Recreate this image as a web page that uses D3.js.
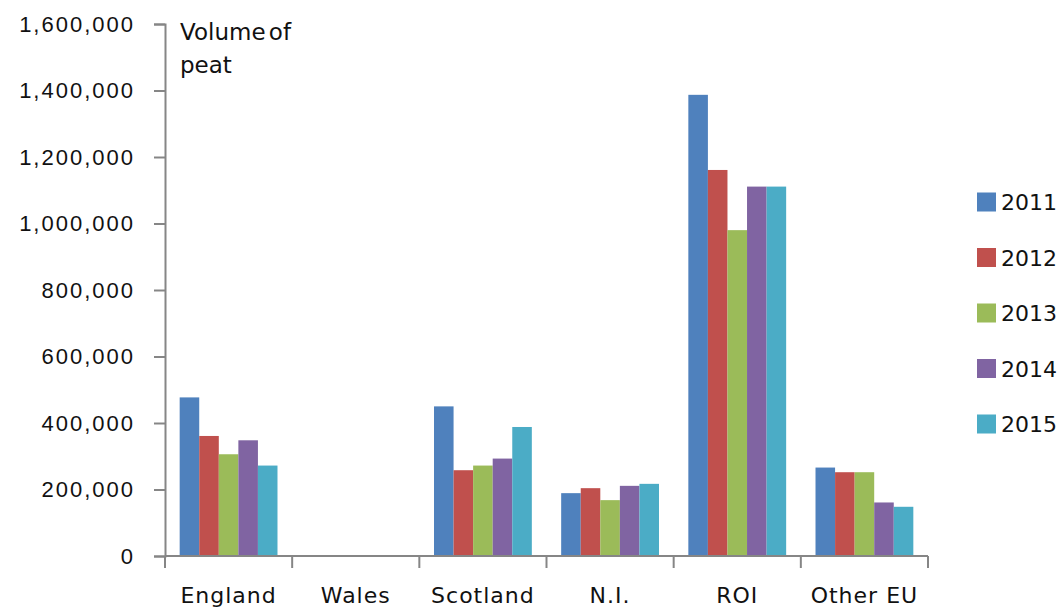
<!DOCTYPE html>
<html>
<head>
<meta charset="utf-8">
<script src="https://cdn.jsdelivr.net/npm/d3@7"></script>
<style>
  html, body { margin: 0; padding: 0; background: #fff; }
  svg { display: block; font-family: "DejaVu Sans", Verdana, sans-serif; }
</style>
</head>
<body>
<div id="chart"></div>
<script>
const categories = ['England', 'Wales', 'Scotland', 'N.I.', 'ROI', 'Other EU'];
const years = ['2011', '2012', '2013', '2014', '2015'];
const v2011 = [477000, 0, 450000, 189000, 1387000, 266000];
const v2012 = [361000, 0, 258000, 204000, 1161000, 252000];
const v2013 = [306000, 0, 272000, 168000, 980000, 252000];
const v2014 = [348000, 0, 293000, 211000, 1111000, 161000];
const v2015 = [272000, 0, 388000, 217000, 1111000, 148000];
const yTicks = [0, 200000, 400000, 600000, 800000, 1000000, 1200000, 1400000, 1600000];
const colors = ['#4f81bd', '#c0504d', '#9bbb59', '#8064a2', '#4bacc6'];

const series = [v2011, v2012, v2013, v2014, v2015];
const width = 1063, height = 609;
const plotLeft = 165, plotRight = 928, plotTop = 24, plotBottom = 556;

const svg = d3.select('#chart').append('svg')
  .attr('width', width)
  .attr('height', height);

const x = d3.scaleBand().domain(categories).range([plotLeft, plotRight]).padding(0);
const x1 = d3.scaleBand().domain(years).range([0, x.bandwidth()])
  .paddingInner(0).paddingOuter(0.75);
const y = d3.scaleLinear().domain([0, 1600000]).range([plotBottom, plotTop]);
const color = d3.scaleOrdinal().domain(years).range(colors);

// bars
const groups = svg.append('g').selectAll('g')
  .data(categories)
  .join('g')
  .attr('transform', d => `translate(${x(d)},0)`);

groups.selectAll('rect')
  .data((d, i) => years.map((yr, j) => ({ yr, value: series[j][i] })))
  .join('rect')
  .attr('x', d => x1(d.yr))
  .attr('y', d => y(d.value))
  .attr('width', x1.bandwidth())
  .attr('height', d => plotBottom - y(d.value))
  .attr('fill', d => color(d.yr));

// y axis
const yAxis = svg.append('g')
  .attr('transform', `translate(${plotLeft},0)`)
  .call(d3.axisLeft(y).tickValues(yTicks).tickSize(11).tickPadding(19)
    .tickFormat(d3.format(',')));
yAxis.select('.domain').attr('stroke', '#868686').attr('stroke-width', 2);
yAxis.selectAll('.tick line').attr('stroke', '#868686').attr('stroke-width', 2);
yAxis.selectAll('.tick text')
  .attr('fill', '#111')
  .style('font-size', '22px')
  .style('letter-spacing', '2px');

// x axis
const xAxis = svg.append('g')
  .attr('transform', `translate(0,${plotBottom})`);
xAxis.append('line')
  .attr('x1', plotLeft).attr('x2', plotRight)
  .attr('stroke', '#868686').attr('stroke-width', 2);
xAxis.selectAll('line.tk')
  .data(categories.concat(['end']))
  .join('line')
  .attr('class', 'tk')
  .attr('x1', (d, i) => i < categories.length ? x(d) : plotRight)
  .attr('x2', (d, i) => i < categories.length ? x(d) : plotRight)
  .attr('y1', 0).attr('y2', 12)
  .attr('stroke', '#868686').attr('stroke-width', 2);
xAxis.selectAll('text')
  .data(categories)
  .join('text')
  .attr('x', d => x(d) + x.bandwidth() / 2)
  .attr('y', 47)
  .attr('text-anchor', 'middle')
  .attr('fill', '#111')
  .style('font-size', '22px')
  .style('letter-spacing', '1px')
  .text(d => d);

// axis title
const title = svg.append('text')
  .attr('x', 180)
  .attr('fill', '#111')
  .style('font-size', '23px')
  .style('word-spacing', '-4px');
title.append('tspan').attr('x', 180).attr('y', 40).text('Volume of');
title.append('tspan').attr('x', 180).attr('y', 73).text('peat');

// legend
const legend = svg.append('g').selectAll('g')
  .data(years)
  .join('g')
  .attr('transform', (d, i) => `translate(977,${202 + i * 55.5})`);
legend.append('rect')
  .attr('x', 0).attr('y', -9.5)
  .attr('width', 19).attr('height', 19)
  .attr('fill', d => color(d));
legend.append('text')
  .attr('x', 24).attr('y', 8)
  .attr('fill', '#111')
  .style('font-size', '22px')
  .text(d => d);
</script>
</body>
</html>
